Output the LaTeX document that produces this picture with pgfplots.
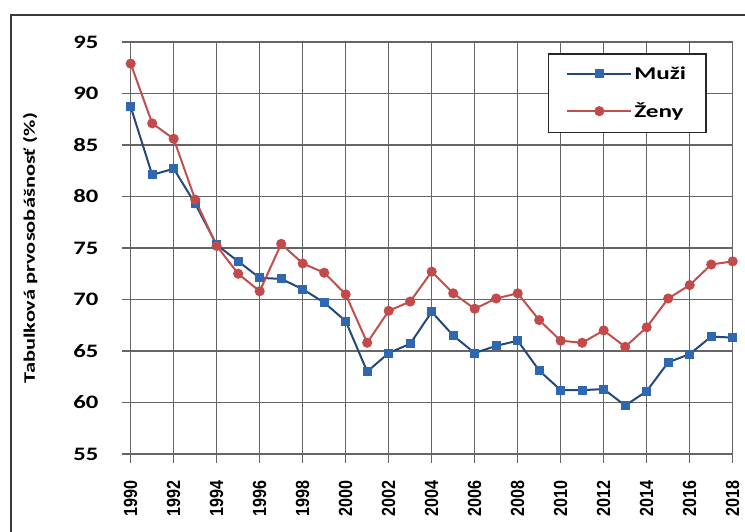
\documentclass[border=0pt]{standalone}
\usepackage{pgfplots}
\pgfplotsset{compat=1.18}
\usepackage{fontspec}
\setmainfont{Carlito}
\newfontfamily\tickfont[FakeStretch=1.3]{Carlito Bold}
\newfontfamily\yearfont[FakeStretch=0.85]{Liberation Sans Bold}
\newfontfamily\labfont[FakeStretch=1.4]{Carlito Bold}
\newfontfamily\legfont[FakeStretch=1.4]{Carlito Bold}

\definecolor{gridcol}{HTML}{656565}
\definecolor{framecol}{HTML}{3A3A3A}
\definecolor{muzi}{HTML}{24487A}
\definecolor{muzimark}{HTML}{2E68B0}
\definecolor{zeny}{HTML}{C0504D}
\definecolor{zenymark}{HTML}{C24A4A}

% rate per year: men, women
\pgfplotstableread{
year muzi zeny
1990 88.7 92.9
1991 82.1 87.1
1992 82.7 85.6
1993 79.3 79.7
1994 75.3 75.2
1995 73.7 72.5
1996 72.1 70.8
1997 72.0 75.4
1998 71.0 73.5
1999 69.7 72.6
2000 67.9 70.5
2001 63.0 65.8
2002 64.8 68.9
2003 65.7 69.8
2004 68.8 72.7
2005 66.5 70.6
2006 64.8 69.1
2007 65.5 70.1
2008 66.0 70.6
2009 63.1 68.0
2010 61.2 66.0
2011 61.2 65.8
2012 61.3 67.0
2013 59.7 65.4
2014 61.1 67.3
2015 63.9 70.1
2016 64.7 71.4
2017 66.4 73.4
2018 66.3 73.7
}\ratetable

\begin{document}
\begin{tikzpicture}
\useasboundingbox (0pt,0pt) rectangle (745pt,532pt);
% chart area frame
\draw[framecol, line width=2pt] (11pt,-10pt) -- (11pt,517pt) -- (760pt,517pt);
\begin{axis}[
  at={(130.7pt,78pt)}, anchor=south west,
  scale only axis, width=602pt, height=412pt,
  xmin=1990, xmax=2018, ymin=55, ymax=95,
  xtick={1990,1992,...,2018}, ytick={55,60,...,95},
  xtick pos=left, ytick pos=left,
  tick align=outside, major tick length=9pt,
  grid=major,
  major grid style={gridcol, line width=1.2pt},
  axis line style={gridcol, line width=1.2pt},
  tick style={gridcol, line width=1.2pt},
  /pgf/number format/assume math mode=true,
  /pgf/number format/1000 sep={},
  x tick label style={rotate=90, anchor=east, inner sep=0pt,
    font=\yearfont\fontsize{19}{19}\selectfont},
  y tick label style={anchor=east, inner sep=0pt, xshift=-23pt,
    font=\tickfont\fontsize{19}{19}\selectfont},
  xticklabel shift=17pt,
  yticklabel shift=0pt,
  ylabel={Tabulková prvosobášnosť (\%)},
  ylabel style={at={(axis description cs:-0.167,0.5)}, anchor=center, rotate=0,
    font=\labfont\fontsize{16}{16}\selectfont},
  clip=false,
  legend style={at={(axis description cs:0.957,0.973)}, anchor=north east,
    draw=black!85, line width=1.5pt, fill=white,
    inner xsep=18pt, inner ysep=11pt, row sep=18pt,
    font=\legfont\fontsize{18}{18}\selectfont,
    cells={anchor=west, inner xsep=3pt}},
  legend image code/.code={
    \draw[mark repeat=2, mark phase=2, #1] plot coordinates {(0pt,0pt) (32pt,0pt) (64pt,0pt)};
  },
]
\addplot[muzi, line width=2pt, mark=square*, mark size=3.5pt,
  mark options={fill=muzimark, draw=muzimark, solid}]
  table[x=year, y=muzi] {\ratetable};
\addlegendentry{Muži}
\addplot[zeny, line width=2pt, mark=*, mark size=4pt,
  mark options={fill=zenymark, draw=zenymark, solid}]
  table[x=year, y=zeny] {\ratetable};
\addlegendentry{Ženy}
\end{axis}
\end{tikzpicture}
\end{document}
